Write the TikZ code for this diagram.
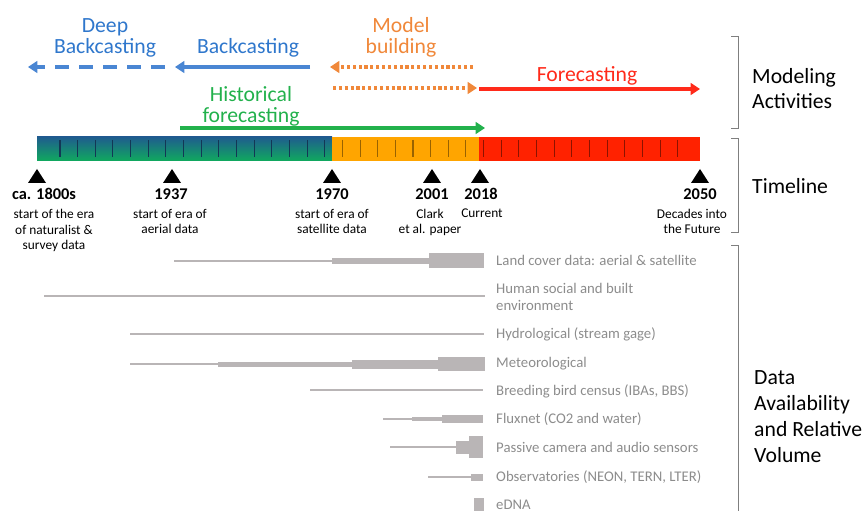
\documentclass[tikz,border=0pt]{standalone}
\usepackage{fontspec}
\setmainfont{Carlito}
\usepackage{tikz}
\usetikzlibrary{arrows.meta}

\definecolor{headblue}{HTML}{2F77CC}
\definecolor{arrblue}{HTML}{4A86D3}
\definecolor{modorange}{HTML}{F0883A}
\definecolor{forered}{HTML}{FF2A1A}
\definecolor{histgreen}{HTML}{22B14C}
\definecolor{barteal}{HTML}{1F5C8E}
\definecolor{bargreen}{HTML}{10AA5E}
\definecolor{barorange}{HTML}{FFA500}
\definecolor{barred}{HTML}{FF2200}
\definecolor{datagray}{HTML}{B9B5B6}
\definecolor{labelgray}{HTML}{8C8C8C}
\definecolor{bracketgray}{HTML}{7F7F7F}

% one bar piece of a data row: x from, x to, y centre, height
\newcommand{\dataseg}[4]{\fill[datagray] (#1,{#3-#4/2}) rectangle (#2,{#3+#4/2});}

\begin{document}
\begin{tikzpicture}[x=0.03cm,y=-0.03cm,
    head/.style={align=center,anchor=base,inner sep=0pt,font=\fontsize{18.5}{18.7}\selectfont},
    side/.style={align=left,anchor=base west,inner sep=0pt,font=\fontsize{18.5}{22}\selectfont},
    year/.style={anchor=base,inner sep=0pt,font=\fontsize{14}{16}\selectfont\bfseries},
    note/.style={align=center,anchor=base,inner sep=0pt,font=\fontsize{11.4}{13.6}\selectfont},
    datalabel/.style={align=left,anchor=base west,inner sep=0pt,text=labelgray,font=\fontsize{12.6}{14.4}\selectfont},
    activity/.style={line width=2.6pt,-{Triangle[length=8pt,width=10pt]}},
    dotted arrow/.style={activity,modorange,line width=2.9pt,dash pattern=on 2.7pt off 2.3pt},
    bracket/.style={draw=bracketgray,line width=0.8pt}]
    \useasboundingbox (0,0) rectangle (865,511);

    % modeling activities
    \coordinate (deepstart) at (165,67);  \coordinate (deepend) at (28,67);
    \coordinate (backstart) at (310,67);  \coordinate (backend) at (175,67);
    \coordinate (modlstart) at (473,67);  \coordinate (modlend) at (330,67);
    \coordinate (modrstart) at (333,88);  \coordinate (modrend) at (477,88);
    \coordinate (forestart) at (479,89);  \coordinate (foreend) at (700,89);
    \coordinate (histstart) at (180,128); \coordinate (histend) at (485,128);
    \draw[activity,arrblue,dash pattern=on 12pt off 8.5pt] (deepstart) -- (deepend);
    \draw[activity,arrblue] (backstart) -- (backend);
    \draw[dotted arrow] (modlstart) -- (modlend);
    \draw[dotted arrow] (modrstart) -- (modrend);
    \draw[activity,forered] (forestart) -- (foreend);
    \draw[activity,histgreen] (histstart) -- (histend);
    \node[head,text=headblue] (deep) at (105,54) {Deep\\Backcasting};
    \node[head,text=headblue] (back) at (248,54) {Backcasting};
    \node[head,text=modorange] (model) at (401,54) {Model\\building};
    \node[head,text=forered] (fore) at (587,82) {Forecasting};
    \node[head,text=histgreen] (hist) at (251,123) {Historical\\forecasting};

    % timeline bar
    \shade[top color=barteal,bottom color=bargreen] (37,137) rectangle (332,161);
    \fill[barorange] (332,137) rectangle (479,161);
    \fill[barred] (479,137) rectangle (700,161);
    \foreach \k in {0,...,15}
        \draw[line width=0.9pt,barteal!60!black] ({60+17.65*\k},140) -- ({60+17.65*\k},157);
    \foreach \k in {16,...,23}
        \draw[line width=0.9pt,barorange!60!black] ({60+17.65*\k},140) -- ({60+17.65*\k},157);
    \foreach \k in {24,...,35}
        \draw[line width=0.9pt,barred!55!black] ({60+17.65*\k},140) -- ({60+17.65*\k},157);
    \foreach \x in {37,172,332,432,480,700}
        \fill ({\x-9},183) -- ({\x+9},183) -- (\x,169) -- cycle;

    \node[year] (y1800) at (44,200) {ca. 1800s};
    \node[year] (y1937) at (171,200) {1937};
    \node[year] (y1970) at (332,200) {1970};
    \node[year] (y2001) at (432,200) {2001};
    \node[year] (y2018) at (481,200) {2018};
    \node[year] (y2050) at (700,200) {2050};
    \node[note] (n1800) at (54,250) {start of the era\\of naturalist \&\\survey data};
    \node[note] (n1937) at (170,234) {start of era of\\aerial data};
    \node[note] (n1970) at (332,234) {start of era of\\satellite data};
    \node[note] (n2001) at (430,234) {Clark\\et al. paper};
    \node[note] (n2018) at (482,218) {Current};
    \node[note] (n2050) at (692,234) {Decades into\\the Future};

    % data availability rows
    \dataseg{174}{332}{261}{2}  \dataseg{332}{429}{261}{5.5}  \dataseg{429}{484}{261}{15}
    \dataseg{44}{485}{296}{2}
    \dataseg{130}{484}{334}{2}
    \dataseg{130}{218}{364}{2}  \dataseg{218}{352}{364}{5}  \dataseg{352}{438}{364}{9}  \dataseg{438}{485}{364}{14}
    \dataseg{310}{483}{390}{2}
    \dataseg{383}{412}{419}{2}  \dataseg{412}{442}{419}{4.5}  \dataseg{442}{483}{419}{7.5}
    \dataseg{390}{456}{447}{2}  \dataseg{456}{469}{447}{13}  \dataseg{469}{483}{447}{22}
    \dataseg{428}{471}{477}{2}  \dataseg{471}{483}{477}{7}
    \dataseg{474}{484}{505}{14}
    \node[datalabel] (landcover) at (496,265.5) {Land cover data: aerial \& satellite};
    \node[datalabel] (human) at (496,310.5) {Human social and built\\environment};
    \node[datalabel] (hydro) at (496,338.5) {Hydrological (stream gage)};
    \node[datalabel] (meteo) at (496,367.5) {Meteorological};
    \node[datalabel] (birds) at (496,395.5) {Breeding bird census (IBAs, BBS)};
    \node[datalabel] (flux) at (496,423.5) {Fluxnet (CO2 and water)};
    \node[datalabel] (camera) at (496,452.5) {Passive camera and audio sensors};
    \node[datalabel] (observ) at (496,481.5) {Observatories (NEON, TERN, LTER)};
    \node[datalabel] (edna) at (496,509) {eDNA};

    % brackets and row titles
    \draw[bracket] (731,36) -- (738,36) -- (738,128) -- (731,128);
    \draw[bracket] (731,138) -- (738,138) -- (738,232) -- (731,232);
    \draw[bracket] (731,245) -- (738,245) -- (738,515);
    \node[side] (modeling) at (752,109) {Modeling\\Activities};
    \node[side] (timeline) at (752,194) {Timeline};
    \node[side] (dataavail) at (754,462) {Data\\Availability\\and Relative\\Volume};
\end{tikzpicture}
\end{document}
